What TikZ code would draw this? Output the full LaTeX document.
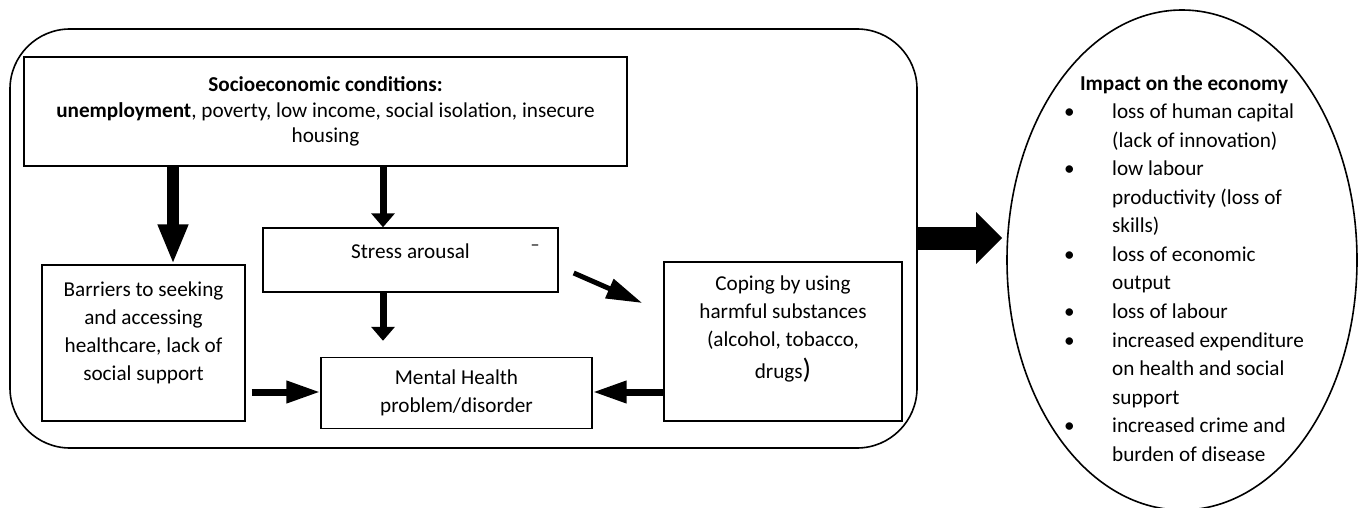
\documentclass[tikz,border=0pt]{standalone}
\usepackage{fontspec}
\setmainfont{Carlito}
\usetikzlibrary{arrows.meta,shapes.geometric}

\begin{document}
\begin{tikzpicture}[x=0.5pt,y=-0.5pt,font=\fontsize{10.6}{14}\selectfont,
  box/.style={draw,line width=0.7pt,align=center,inner sep=0pt},
  fatarrow/.style={line width=6pt,-{Triangle[length=20pt,width=14pt]}},
  midarrow/.style={line width=3.5pt,-{Triangle[length=7pt,width=11.5pt]}},
  sidearrow/.style={line width=3.5pt,-{Triangle[length=17pt,width=10.5pt]}},
  slantarrow/.style={line width=2.5pt,-{Triangle[length=18pt,width=10pt]}},
  outarrow/.style={line width=11.5pt,-{Triangle[length=13pt,width=25pt]}}]

  \useasboundingbox (0,0) rectangle (1360,508);

  % frame round the causes
  \node[draw,line width=0.8pt,rounded corners=30pt,minimum width=453.5pt,minimum height=209.5pt] (frame) at (463.5,238.5) {};

  % causes
  \node[box,minimum width=301.5pt,minimum height=54.5pt,font=\fontsize{10.6}{12.75}\selectfont] (socio) at (325.5,111.5)
    {\textbf{Socioeconomic conditions:}\\ \textbf{unemployment}, poverty, low income, social isolation, insecure\\ housing};
  \node[box,minimum width=147.5pt,minimum height=32pt,text depth=9pt] (stress) at (410.5,260) {Stress arousal};
  \node[font=\fontsize{9}{9}\selectfont,inner sep=0pt] (stressmark) at (535,248) {–};
  \node[box,minimum width=101.5pt,minimum height=78pt,text depth=12pt] (barrier) at (143.5,343)
    {Barriers to seeking\\ and accessing\\ healthcare, lack of\\ social support};
  \node[box,minimum width=135.5pt,minimum height=35.5pt] (mental) at (456.5,393) {Mental Health\\ problem/disorder};
  \node[box,minimum width=119pt,minimum height=79.5pt,text depth=14pt] (coping) at (783,341.5)
    {Coping by using\\ harmful substances\\ (alcohol, tobacco,\\[2pt] drugs{\fontsize{14}{14}\selectfont)}};

  % impact
  \node[draw,ellipse,line width=0.8pt,minimum width=175pt,minimum height=250pt] (impact) at (1182,260) {};
  \node[inner sep=0pt] (impactlist) at (1184,270)
    {\renewcommand\arraystretch{1.02}%
     \begin{tabular}{@{}p{24pt}@{}l@{}}
       \multicolumn{2}{c}{\bfseries Impact on the economy}\\
       • & loss of human capital\\
         & (lack of innovation)\\
       • & low labour\\
         & productivity (loss of\\
         & skills)\\
       • & loss of economic\\
         & output\\
       • & loss of labour\\
       • & increased expenditure\\
         & on health and social\\
         & support\\
       • & increased crime and\\
         & burden of disease
     \end{tabular}};

  % arrows
  \coordinate (leftlane) at (173,0);
  \coordinate (midlane) at (383,0);
  \coordinate (lowlane) at (0,392);
  \coordinate (outlane) at (0,238);
  \draw[fatarrow] (socio.south -| leftlane) -- (barrier.north -| leftlane);
  \draw[midarrow] (socio.south -| midlane) -- (stress.north -| midlane);
  \draw[midarrow,shorten >=8pt] (stress.south -| midlane) -- (mental.north -| midlane);
  \draw[slantarrow] ([xshift=7.5pt,yshift=-6.5pt]stress.east) -- ([xshift=-10.5pt,yshift=19.25pt]coping.west);
  \draw[sidearrow,shorten <=3pt] (barrier.east |- lowlane) -- (mental.west |- lowlane);
  \draw[sidearrow] (coping.west |- lowlane) -- (mental.east |- lowlane);
  \draw[outarrow,shorten >=2pt] (frame.east |- outlane) -- (impact.west |- outlane);
\end{tikzpicture}
\end{document}
